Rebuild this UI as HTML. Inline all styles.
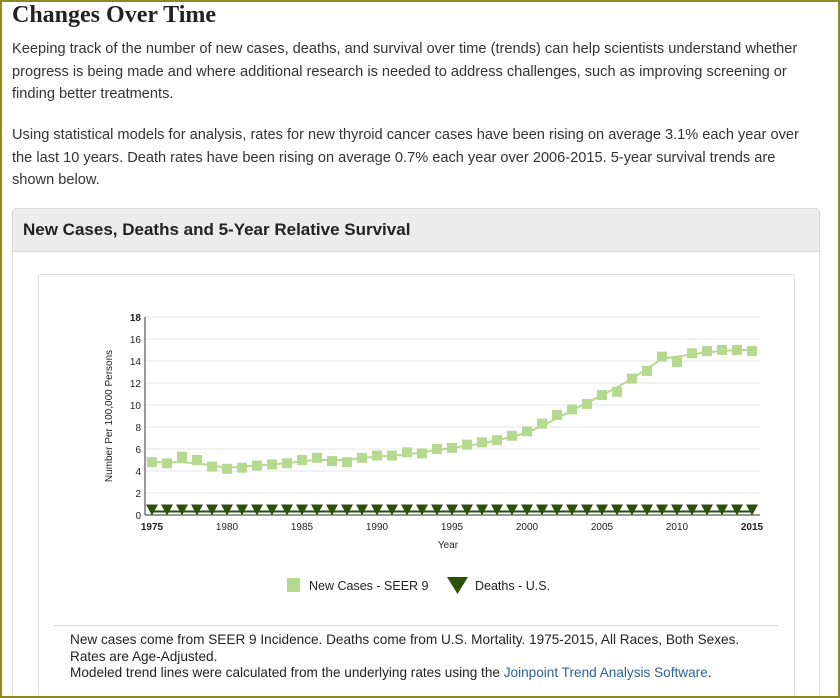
<!DOCTYPE html>
<html><head><meta charset="utf-8">
<style>
html,body{margin:0;width:840px;height:698px;overflow:hidden;background:#fff;font-family:"Liberation Sans",sans-serif;}
#frame{position:absolute;left:0;top:0;width:836px;height:694px;border:2px solid #8b8b22;}
h2{position:absolute;left:12px;top:2px;margin:0;font-family:"Liberation Serif",serif;font-size:24px;font-weight:bold;color:#222;}
.p{position:absolute;left:12px;width:802px;font-size:14.6px;line-height:22.5px;color:#333;margin:0;}
#panel{position:absolute;left:12px;top:208px;width:806px;height:486px;border:1px solid #ddd;border-bottom:none;border-radius:4px 4px 0 0;background:#fff;overflow:hidden;}
#ph{height:42px;background:#ececec;border-bottom:1px solid #ddd;font-weight:bold;font-size:17px;line-height:42px;padding-left:10px;color:#222;}
#inner{position:absolute;left:25px;top:65px;width:755px;height:440px;border:1px solid #ddd;border-radius:3px;}
#notes{position:absolute;left:54px;top:625px;width:708px;border-top:1px solid #ddd;padding:6px 0 0 16px;font-size:13.6px;line-height:16.5px;color:#222;}
a{color:#2a6496;text-decoration:none;}
</style></head><body>
<div id="frame"></div>
<h2>Changes Over Time</h2>
<p class="p" style="top:38px">Keeping track of the number of new cases, deaths, and survival over time (trends) can help scientists understand whether progress is being made and where additional research is needed to address challenges, such as improving screening or finding better treatments.</p>
<p class="p" style="top:124px">Using statistical models for analysis, rates for new thyroid cancer cases have been rising on average 3.1% each year over the last 10 years. Death rates have been rising on average 0.7% each year over 2006-2015. 5-year survival trends are shown below.</p>
<div id="panel">
<div id="ph">New Cases, Deaths and 5-Year Relative Survival</div>
<div id="inner"></div>
</div>
<svg id="chart" width="840" height="698" style="position:absolute;left:0;top:0"></svg>
<div id="notes">New cases come from SEER 9 Incidence. Deaths come from U.S. Mortality. 1975-2015, All Races, Both Sexes.<br>Rates are Age-Adjusted.<br>Modeled trend lines were calculated from the underlying rates using the <a href="#">Joinpoint Trend Analysis Software</a>.</div>
<script>
const years=[1975,1976,1977,1978,1979,1980,1981,1982,1983,1984,1985,1986,1987,1988,1989,1990,1991,1992,1993,1994,1995,1996,1997,1998,1999,2000,2001,2002,2003,2004,2005,2006,2007,2008,2009,2010,2011,2012,2013,2014,2015];
const newCases=[4.8,4.7,5.3,5.0,4.4,4.2,4.3,4.5,4.6,4.7,5.0,5.2,4.9,4.8,5.2,5.4,5.4,5.7,5.6,6.0,6.1,6.4,6.6,6.8,7.2,7.6,8.3,9.1,9.6,10.1,10.9,11.2,12.4,13.1,14.4,13.9,14.7,14.9,15.0,15.0,14.9];
const newTrend=[4.8,4.8,4.8,4.7,4.5,4.3,4.4,4.5,4.6,4.7,4.9,5.0,5.0,5.0,5.2,5.3,5.4,5.5,5.7,5.9,6.1,6.3,6.5,6.8,7.1,7.5,8.1,8.8,9.5,10.2,10.9,11.6,12.4,13.3,14.2,14.4,14.6,14.8,14.9,15.0,15.0];
const deaths=[0.5,0.5,0.5,0.5,0.5,0.5,0.5,0.5,0.5,0.5,0.5,0.5,0.5,0.5,0.5,0.5,0.5,0.5,0.5,0.5,0.5,0.5,0.5,0.5,0.5,0.5,0.5,0.5,0.5,0.5,0.5,0.5,0.5,0.5,0.5,0.5,0.5,0.5,0.5,0.5,0.5];
const yTicks=[0,2,4,6,8,10,12,14,16,18];
const xTicks=[1975,1980,1985,1990,1995,2000,2005,2010,2015];
const NS='http://www.w3.org/2000/svg';
const svg=document.getElementById('chart');
const x0=152,x1=752,y0=515,y1=317;
function xs(v){return x0+(v-1975)/(2015-1975)*(x1-x0);}
function ys(v){return y0-v/18*(y0-y1);}
function mk(t,a,txt){const e=document.createElementNS(NS,t);for(const k in a)e.setAttribute(k,a[k]);if(txt!==undefined)e.textContent=txt;svg.appendChild(e);return e;}
yTicks.forEach(v=>{
 const g=mk('line',{x1:145,x2:760,y1:ys(v),y2:ys(v),stroke:v===0?'#333':'#e4e4e4','stroke-width':1});
 
 
 const t=mk('text',{x:141,y:ys(v)+4,'text-anchor':'end','font-size':10,'font-weight':v===18?'bold':'normal',fill:'#222','font-family':'Liberation Sans, sans-serif'},v);
 
 
});
const ax=mk('line',{x1:145,x2:145,y1:y1,y2:y0,stroke:'#333'});


xTicks.forEach((v,i)=>{
 const b=(i===0||i===xTicks.length-1);
 const t=mk('text',{x:xs(v),y:530,'text-anchor':'middle','font-size':10,'font-weight':b?'bold':'normal',fill:'#222','font-family':'Liberation Sans, sans-serif'},v);
 
 
});
const xt=mk('text',{x:448,y:548,'text-anchor':'middle','font-size':10,fill:'#222','font-family':'Liberation Sans, sans-serif'},'Year');


const yt=mk('text',{x:0,y:0,transform:'translate(112,416) rotate(-90)','text-anchor':'middle','font-size':10,fill:'#222','font-family':'Liberation Sans, sans-serif'},'Number Per 100,000 Persons');


const tl=mk('polyline',{points:years.map((y,i)=>xs(y)+','+ys(newTrend[i])).join(' '),fill:'none',stroke:'#b5d98f','stroke-width':2});


const dl=mk('polyline',{points:years.map((y,i)=>xs(y)+','+(ys(deaths[i])+2)).join(' '),fill:'none',stroke:'#2d4f0c','stroke-width':2});


years.forEach((y,i)=>{
 const r=mk('rect',{x:xs(y)-5,y:ys(newCases[i])-5,width:10,height:10,fill:'#b5d98f'});
 
 
 const cx=xs(y),cy=ys(deaths[i]);
 const p=mk('polygon',{points:(cx-6)+','+(cy-5)+' '+(cx+6)+','+(cy-5)+' '+cx+','+(cy+6),fill:'#2d4f0c'});
 
 
});
const l1=mk('rect',{x:287,y:578,width:13,height:14,fill:'#b5d98f'});


const lt1=mk('text',{x:309,y:590,'font-size':12.5,fill:'#222','font-family':'Liberation Sans, sans-serif'},'New Cases - SEER 9');


const l2=mk('polygon',{points:'447,577 468,577 457.5,594',fill:'#2d4f0c'});


const lt2=mk('text',{x:475,y:590,'font-size':12.5,fill:'#222','font-family':'Liberation Sans, sans-serif'},'Deaths - U.S.');


</script>
</body></html>
